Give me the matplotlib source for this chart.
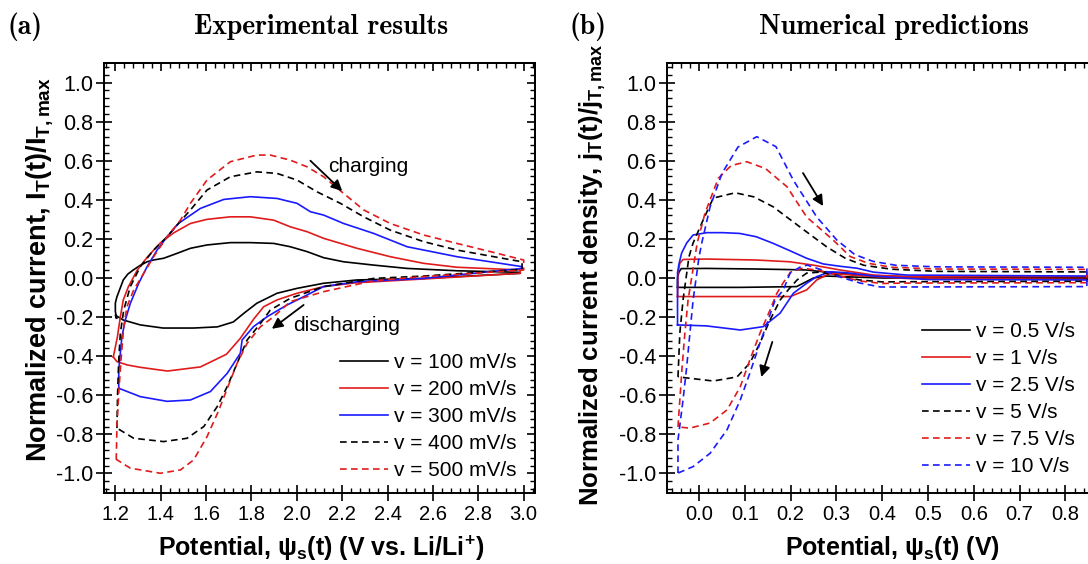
import matplotlib
matplotlib.use('Agg')
import matplotlib.pyplot as plt
from matplotlib.ticker import MultipleLocator, FormatStrFormatter

plt.rcParams['font.family'] = ['Liberation Sans', 'DejaVu Sans']
plt.rcParams['mathtext.fontset'] = 'custom'
plt.rcParams['mathtext.rm'] = 'Liberation Sans:bold'
plt.rcParams['mathtext.bf'] = 'Liberation Sans:bold'
plt.rcParams['mathtext.it'] = 'Liberation Sans:bold'
plt.rcParams['axes.unicode_minus'] = False

# ---- (a) experimental CV loops: charging (up) and discharging (dn) branches
exp_labels = ['v = 100 mV/s', 'v = 200 mV/s', 'v = 300 mV/s', 'v = 400 mV/s', 'v = 500 mV/s']

e100_up_x = [1.205, 1.200, 1.200, 1.207, 1.222, 1.235, 1.255, 1.279, 1.310, 1.340, 1.368, 1.413, 1.472,
             1.531, 1.604, 1.707, 1.795, 1.898, 1.971, 2.045, 2.118, 2.206, 2.339, 2.486, 2.706, 2.985]
e100_up_y = [-0.205, -0.170, -0.128, -0.096, -0.050, -0.010, 0.020, 0.041, 0.065, 0.083, 0.092, 0.101, 0.126,
             0.152, 0.169, 0.181, 0.181, 0.177, 0.160, 0.135, 0.104, 0.083, 0.066, 0.049, 0.037, 0.029]
e100_dn_x = [2.985, 2.559, 2.265, 2.118, 2.001, 1.913, 1.824, 1.766, 1.720, 1.650, 1.545, 1.410, 1.310, 1.235, 1.200]
e100_dn_y = [0.024, -0.002, -0.010, -0.027, -0.053, -0.078, -0.129, -0.181, -0.225, -0.250, -0.256, -0.256,
             -0.240, -0.215, -0.190]

e200_up_x = [1.191, 1.209, 1.222, 1.235, 1.257, 1.297, 1.341, 1.398, 1.456, 1.531, 1.604, 1.707, 1.795,
             1.898, 1.971, 2.045, 2.118, 2.265, 2.412, 2.559, 2.706, 2.985]
e200_up_y = [-0.404, -0.302, -0.199, -0.112, -0.046, 0.041, 0.107, 0.179, 0.230, 0.279, 0.300, 0.313, 0.313,
             0.296, 0.262, 0.237, 0.203, 0.152, 0.109, 0.075, 0.055, 0.041]
e200_dn_x = [2.985, 2.559, 2.265, 2.118, 2.001, 1.913, 1.854, 1.810, 1.750, 1.690, 1.575, 1.430, 1.310, 1.253,
             1.207, 1.191]
e200_dn_y = [0.024, -0.005, -0.024, -0.044, -0.078, -0.112, -0.147, -0.210, -0.310, -0.390, -0.455, -0.476,
             -0.457, -0.445, -0.428, -0.404]

e300_up_x = [1.215, 1.215, 1.222, 1.229, 1.244, 1.266, 1.303, 1.340, 1.384, 1.428, 1.479, 1.575, 1.678, 1.795,
             1.913, 2.001, 2.060, 2.118, 2.206, 2.339, 2.486, 2.706, 2.993]
e300_up_y = [-0.564, -0.470, -0.385, -0.300, -0.215, -0.130, -0.027, 0.058, 0.143, 0.211, 0.280, 0.356, 0.402,
             0.416, 0.407, 0.382, 0.339, 0.322, 0.279, 0.228, 0.160, 0.109, 0.058]
e300_dn_x = [2.993, 2.559, 2.265, 2.118, 2.016, 1.957, 1.869, 1.809, 1.759, 1.751, 1.693, 1.619, 1.531, 1.428,
             1.310, 1.215]
e300_dn_y = [0.049, -0.002, -0.019, -0.044, -0.104, -0.138, -0.198, -0.249, -0.317, -0.385, -0.488, -0.581,
             -0.624, -0.631, -0.607, -0.564]

e400_up_x = [1.207, 1.210, 1.215, 1.222, 1.237, 1.266, 1.310, 1.369, 1.428, 1.472, 1.531, 1.604, 1.707, 1.824,
             1.913, 2.001, 2.089, 2.192, 2.295, 2.412, 2.559, 2.706, 2.993]
e400_up_y = [-0.768, -0.589, -0.419, -0.283, -0.164, -0.044, 0.058, 0.143, 0.211, 0.271, 0.348, 0.450, 0.518,
             0.543, 0.535, 0.501, 0.441, 0.382, 0.313, 0.245, 0.186, 0.143, 0.083]
e400_dn_x = [2.993, 2.559, 2.339, 2.118, 1.971, 1.883, 1.840, 1.781, 1.737, 1.693, 1.649, 1.590, 1.516, 1.413,
             1.281, 1.207]
e400_dn_y = [0.044, 0.010, -0.002, -0.044, -0.104, -0.164, -0.232, -0.317, -0.436, -0.556, -0.658, -0.760,
             -0.820, -0.837, -0.820, -0.768]

e500_up_x = [1.204, 1.207, 1.215, 1.225, 1.237, 1.251, 1.281, 1.325, 1.369, 1.428, 1.487, 1.531, 1.604, 1.707,
             1.824, 1.883, 1.971, 2.045, 2.118, 2.206, 2.295, 2.412, 2.559, 2.706, 2.853, 3.000]
e500_up_y = [-0.930, -0.760, -0.589, -0.419, -0.249, -0.147, -0.061, 0.024, 0.109, 0.211, 0.296, 0.382, 0.501,
             0.595, 0.629, 0.629, 0.603, 0.569, 0.518, 0.433, 0.348, 0.279, 0.220, 0.177, 0.135, 0.092]
e500_dn_x = [3.000, 2.559, 2.339, 2.118, 1.971, 1.898, 1.840, 1.781, 1.737, 1.700, 1.655, 1.604, 1.545, 1.487,
             1.399, 1.266, 1.207]
e500_dn_y = [0.041, 0.007, -0.014, -0.070, -0.121, -0.198, -0.249, -0.334, -0.436, -0.545, -0.680, -0.812,
             -0.931, -0.982, -0.999, -0.973, -0.930]

# ---- (b) numerical predictions
num_labels = ['v = 0.5 V/s', 'v = 1 V/s', 'v = 2.5 V/s', 'v = 5 V/s', 'v = 7.5 V/s', 'v = 10 V/s']

n05_up_x = [-0.047, -0.047, -0.044, -0.039, 0.016, 0.125, 0.198, 0.235, 0.271, 0.308, 0.344, 0.453, 0.847]
n05_up_y = [-0.048, 0.000, 0.030, 0.048, 0.049, 0.046, 0.043, 0.041, 0.032, 0.025, 0.015, 0.007, 0.003]
n05_dn_x = [0.847, 0.400, 0.300, 0.279, 0.250, 0.213, 0.089, -0.047]
n05_dn_y = [-0.003, 0.000, 0.008, 0.010, 0.000, -0.044, -0.048, -0.048]

n1_up_x = [-0.047, -0.046, -0.042, -0.035, 0.016, 0.125, 0.198, 0.249, 0.308, 0.381, 0.454, 0.847]
n1_up_y = [-0.095, 0.024, 0.075, 0.095, 0.097, 0.092, 0.083, 0.066, 0.041, 0.015, 0.007, 0.007]
n1_dn_x = [0.847, 0.450, 0.350, 0.286, 0.257, 0.235, 0.199, 0.125, -0.047]
n1_dn_y = [-0.007, -0.002, 0.012, 0.024, -0.010, -0.061, -0.095, -0.095, -0.095]

n25_up_x = [-0.047, -0.047, -0.044, -0.038, -0.027, -0.013, 0.017, 0.052, 0.089, 0.125, 0.162, 0.198, 0.235,
            0.271, 0.308, 0.345, 0.381, 0.454, 0.847]
n25_up_y = [-0.240, 0.026, 0.070, 0.128, 0.179, 0.220, 0.232, 0.232, 0.228, 0.211, 0.177, 0.140, 0.101,
            0.072, 0.060, 0.050, 0.030, 0.015, 0.010]
n25_dn_x = [0.847, 0.500, 0.381, 0.323, 0.286, 0.257, 0.235, 0.206, 0.177, 0.140, 0.090, 0.016, -0.047]
n25_dn_y = [-0.010, -0.008, 0.010, 0.027, 0.032, 0.007, -0.027, -0.078, -0.180, -0.249, -0.266, -0.245, -0.240]

n5_up_x = [-0.046, -0.042, -0.035, -0.022, -0.013, 0.009, 0.031, 0.079, 0.120, 0.162, 0.221, 0.279, 0.320,
           0.360, 0.420, 0.520, 0.847]
n5_up_y = [-0.506, -0.283, -0.113, 0.109, 0.179, 0.297, 0.409, 0.436, 0.415, 0.364, 0.260, 0.159, 0.100,
           0.065, 0.045, 0.034, 0.031]
n5_dn_x = [0.847, 0.450, 0.400, 0.350, 0.300, 0.264, 0.235, 0.214, 0.195, 0.177, 0.155, 0.133, 0.111, 0.083,
           0.031, -0.046]
n5_dn_y = [-0.017, -0.019, -0.020, -0.010, 0.015, 0.030, 0.025, -0.010, -0.060, -0.113, -0.215, -0.333,
           -0.435, -0.506, -0.527, -0.506]

n75_up_x = [-0.046, -0.042, -0.037, -0.031, -0.024, -0.004, 0.013, 0.042, 0.070, 0.104, 0.145, 0.192, 0.235,
            0.293, 0.330, 0.370, 0.420, 0.520, 0.847]
n75_up_y = [-0.762, -0.624, -0.455, -0.283, -0.113, 0.180, 0.332, 0.510, 0.575, 0.595, 0.560, 0.467, 0.312,
            0.194, 0.110, 0.075, 0.055, 0.046, 0.044]
n75_dn_x = [0.847, 0.450, 0.400, 0.350, 0.300, 0.260, 0.225, 0.200, 0.185, 0.170, 0.155, 0.133, 0.111, 0.090,
            0.061, 0.024, -0.020, -0.046]
n75_dn_y = [-0.024, -0.026, -0.028, -0.015, 0.015, 0.040, 0.050, 0.030, -0.020, -0.078, -0.164, -0.283,
            -0.419, -0.557, -0.675, -0.742, -0.768, -0.762]

n10_up_x = [-0.046, -0.046, -0.035, -0.027, -0.020, -0.013, 0.000, 0.006, 0.024, 0.050, 0.085, 0.126, 0.168,
            0.206, 0.257, 0.301, 0.340, 0.380, 0.430, 0.520, 0.847]
n10_up_y = [-0.998, -0.829, -0.624, -0.455, -0.283, -0.113, 0.108, 0.180, 0.363, 0.535, 0.670, 0.723, 0.672,
            0.500, 0.312, 0.194, 0.120, 0.085, 0.065, 0.057, 0.055]
n10_dn_x = [0.847, 0.440, 0.396, 0.352, 0.308, 0.270, 0.236, 0.221, 0.199, 0.184, 0.166, 0.151, 0.133, 0.111,
            0.090, 0.061, 0.024, -0.013, -0.046]
n10_dn_y = [-0.044, -0.046, -0.046, -0.026, 0.005, 0.040, 0.066, 0.056, 0.026, -0.061, -0.113, -0.215, -0.333,
            -0.486, -0.624, -0.777, -0.897, -0.965, -0.998]

BLACK, RED, BLUE = '#000000', '#e01b1b', '#1a1aff'
DASH = (0, (4, 2.6))


def cv_loop(ax, up_x, up_y, dn_x, dn_y, color, ls, label):
    xs = up_x + dn_x + [up_x[0]]
    ys = up_y + dn_y + [up_y[0]]
    ax.plot(xs, ys, color=color, linestyle=ls, lw=1.2, label=label)


def style_axes(ax, xmaj, xmin):
    ax.set_ylim(-1.1, 1.1)
    ax.xaxis.set_major_locator(MultipleLocator(xmaj))
    ax.xaxis.set_minor_locator(MultipleLocator(xmin))
    ax.yaxis.set_major_locator(MultipleLocator(0.2))
    ax.yaxis.set_minor_locator(MultipleLocator(0.04))
    ax.yaxis.set_major_formatter(FormatStrFormatter('%.1f'))
    ax.xaxis.set_major_formatter(FormatStrFormatter('%.1f'))
    for s in ax.spines.values():
        s.set_linewidth(1.4)
    ax.tick_params(which='major', direction='inout', length=12, width=1.2)
    ax.tick_params(which='minor', direction='in', length=3.5, width=1.0)
    ax.tick_params(axis='x', which='major', pad=3, labelsize=14.5)
    ax.tick_params(axis='y', which='major', pad=2, labelsize=15.5)
    # top and right: inward ticks only
    top = ax.secondary_xaxis('top')
    top.xaxis.set_major_locator(MultipleLocator(xmaj))
    top.xaxis.set_minor_locator(MultipleLocator(xmin))
    top.tick_params(which='major', direction='in', length=6, width=1.2, labeltop=False)
    top.tick_params(which='minor', direction='in', length=3.5, width=1.0)
    right = ax.secondary_yaxis('right')
    right.yaxis.set_major_locator(MultipleLocator(0.2))
    right.yaxis.set_minor_locator(MultipleLocator(0.04))
    right.tick_params(which='major', direction='in', length=6, width=1.2, labelright=False)
    right.tick_params(which='minor', direction='in', length=3.5, width=1.0)
    for sec in (top, right):
        for s in sec.spines.values():
            s.set_linewidth(1.4)


W, H = 1088, 564
fig = plt.figure(figsize=(W / 100, H / 100), dpi=100)
ax1 = fig.add_axes([104 / W, 1 - 493 / H, 431 / W, 430 / H])
ax2 = fig.add_axes([667 / W, 1 - 493 / H, 435 / W, 430 / H])

# panel (a)
cv_loop(ax1, e100_up_x, e100_up_y, e100_dn_x, e100_dn_y, BLACK, '-', exp_labels[0])
cv_loop(ax1, e200_up_x, e200_up_y, e200_dn_x, e200_dn_y, RED, '-', exp_labels[1])
cv_loop(ax1, e300_up_x, e300_up_y, e300_dn_x, e300_dn_y, BLUE, '-', exp_labels[2])
cv_loop(ax1, e400_up_x, e400_up_y, e400_dn_x, e400_dn_y, BLACK, DASH, exp_labels[3])
cv_loop(ax1, e500_up_x, e500_up_y, e500_dn_x, e500_dn_y, RED, DASH, exp_labels[4])
ax1.set_xlim(1.15, 3.05)
style_axes(ax1, 0.2, 0.04)

# panel (b)
cv_loop(ax2, n05_up_x, n05_up_y, n05_dn_x, n05_dn_y, BLACK, '-', num_labels[0])
cv_loop(ax2, n1_up_x, n1_up_y, n1_dn_x, n1_dn_y, RED, '-', num_labels[1])
cv_loop(ax2, n25_up_x, n25_up_y, n25_dn_x, n25_dn_y, BLUE, '-', num_labels[2])
cv_loop(ax2, n5_up_x, n5_up_y, n5_dn_x, n5_dn_y, BLACK, DASH, num_labels[3])
cv_loop(ax2, n75_up_x, n75_up_y, n75_dn_x, n75_dn_y, RED, DASH, num_labels[4])
cv_loop(ax2, n10_up_x, n10_up_y, n10_dn_x, n10_dn_y, BLUE, DASH, num_labels[5])
ax2.set_xlim(-0.07, 0.88)
style_axes(ax2, 0.1, 0.02)

leg_kw = dict(frameon=False, fontsize=15, handlelength=2.3, handletextpad=0.3,
              labelspacing=0.38, borderpad=0, borderaxespad=0, loc='lower right')
ax1.legend(bbox_to_anchor=(0.958, 0.03), **leg_kw)
ax2.legend(bbox_to_anchor=(0.939, 0.04), **leg_kw)

arrow = dict(arrowstyle='-|>', color='k', lw=1.3, mutation_scale=16, shrinkA=0, shrinkB=0)
ax1.annotate('', xy=(2.20, 0.445), xytext=(2.06, 0.60), arrowprops=arrow)
ax1.text(2.14, 0.57, 'charging', fontsize=15, va='center', ha='left')
ax1.annotate('', xy=(1.89, -0.26), xytext=(2.03, -0.138), arrowprops=arrow)
ax1.text(1.985, -0.245, 'discharging', fontsize=15, va='center', ha='left')
ax2.annotate('', xy=(0.271, 0.368), xytext=(0.227, 0.537), arrowprops=arrow)
ax2.annotate('', xy=(0.136, -0.506), xytext=(0.160, -0.327), arrowprops=arrow)

# axis labels
lab = dict(fontweight='bold', ha='center', va='center')
fig.text(40 / W, 1 - 270 / H, r'Normalized current, I$_\mathrm{T}$(t)/I$_\mathrm{T,max}$',
         rotation=90, fontsize=19.5, **lab)
fig.text(593 / W, 1 - 275 / H, r'Normalized current density, j$_\mathrm{T}$(t)/j$_\mathrm{T,max}$',
         rotation=90, fontsize=18.5, **lab)
fig.text(321 / W, 1 - 548 / H, r'Potential, ψ$_\mathrm{s}$(t) (V vs. Li/Li$^\mathrm{+}$)', fontsize=18, **lab)
fig.text(893 / W, 1 - 548 / H, r'Potential, ψ$_\mathrm{s}$(t) (V)', fontsize=18, **lab)

# panel titles
ttl = dict(fontsize=20, family=['cmb10', 'DejaVu Serif'], va='center')
fig.text(7 / W, 1 - 27 / H, '(a)', ha='left', **ttl)
fig.text(321 / W, 1 - 27 / H, 'Experimental results', ha='center', **ttl)
fig.text(569 / W, 1 - 27 / H, '(b)', ha='left', **ttl)
fig.text(894 / W, 1 - 27 / H, 'Numerical predictions', ha='center', **ttl)

fig.savefig('out.png', dpi=100)
